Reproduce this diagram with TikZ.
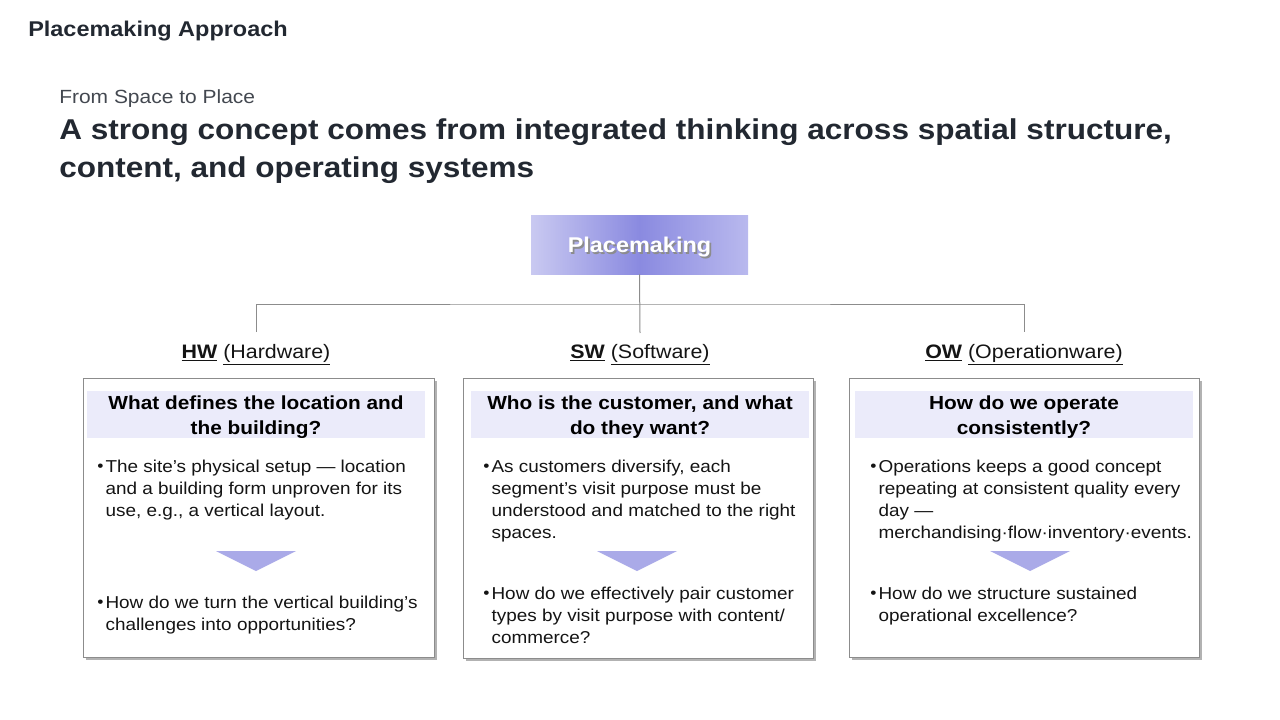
\documentclass[tikz,border=0pt]{standalone}
\usepackage{fontspec}
\setmainfont{Liberation Sans}[FakeStretch=1.1]
\usetikzlibrary{shadows}
\definecolor{ink}{HTML}{222831}
\definecolor{body}{HTML}{141414}
\definecolor{bandc}{HTML}{EBEBFA}
\definecolor{tric}{HTML}{AAAAE8}
\definecolor{linec}{HTML}{8C8C8C}
\definecolor{pmL}{HTML}{C9C9F1}
\definecolor{pmM}{HTML}{8A8AE0}
\definecolor{pmR}{HTML}{B9B9EE}
\tikzset{
  conn/.style={draw=linec, line width=0.75pt},
  card/.style={draw=linec, line width=0.75pt, fill=white, inner sep=0pt,
    drop shadow={shadow xshift=2pt, shadow yshift=-2pt, fill=black, opacity=0.3}},
  band/.style={fill=bandc, inner sep=0pt, minimum width=253.5pt, minimum height=35.25pt,
    align=center, text=black, font=\fontsize{14.2}{18.75}\selectfont\bfseries},
  bandtxt/.style={inner sep=0pt, align=center, text=black, font=\fontsize{14.2}{18.75}\selectfont\bfseries},
  tri/.style={fill=tric, draw=none},
  blt/.style={anchor=base west, inner sep=0pt, text=body, font=\fontsize{12.9}{16.5}\selectfont},
  lbl/.style={anchor=base, inner sep=0pt, text=body, font=\fontsize{14.6}{18}\selectfont},
}
\newcommand{\bl}[1]{\begin{tabular}[t]{@{}l@{\hspace{1.6pt}}l@{}}\raisebox{0.3pt}{\fontsize{12}{12}\selectfont•}&#1\end{tabular}}
\begin{document}
\begin{tikzpicture}[x=0.75pt,y=-0.75pt]
\useasboundingbox (0,0) rectangle (1280,720);
% titles
\node[anchor=base west, inner sep=0pt, text=ink, font=\fontsize{16}{19}\selectfont\bfseries] (title) at (28,37) {Placemaking Approach};
\node[anchor=base west, inner sep=0pt, text=ink!85, font=\fontsize{14.3}{17}\selectfont] (sub) at (59,104) {From Space to Place};
\node[anchor=base west, inner sep=0pt, text=ink, align=left, font=\fontsize{21.5}{28.5}\selectfont\bfseries] (head) at (59,178) {A strong concept comes from integrated thinking across spatial structure,\\content, and operating systems};
% top node
\node[minimum width=162.75pt, minimum height=43.5pt, inner sep=0pt, left color=pmL, right color=pmR, middle color=pmM] (pm) at (639.5,245) {};
\node[inner sep=0pt, text=white, font=\fontsize{16}{19}\selectfont\bfseries] (pmt) at (639.5,248) {\makebox[0pt][l]{\raisebox{-1.3pt}{\hspace{1.3pt}\textcolor{black!45}{Placemaking}}}Placemaking};
% connectors
\coordinate (hwTop) at (256,332);
\coordinate (swTop) at (640,333);
\coordinate (owTop) at (1024,332);
\coordinate (jn) at (640,304);
\draw[conn] (pm.south) -- (swTop);
\draw[conn] (hwTop) |- (jn) -| (owTop);
% labels
\node[lbl] (lhw) at (256,358) {\underline{\textbf{HW}} \underline{(Hardware)}};
\node[lbl] (lsw) at (640,358) {\underline{\textbf{SW}} \underline{(Software)}};
\node[lbl] (low) at (1024,358) {\underline{\textbf{OW}} \underline{(Operationware)}};
% cards
\node[card, minimum width=263.25pt, minimum height=209.25pt] (chw) at (258.5,517.5) {};
\node[card, minimum width=262.5pt, minimum height=210pt] (csw) at (638,518) {};
\node[card, minimum width=262.5pt, minimum height=209.25pt] (cow) at (1024,517.5) {};
% bands
\node[band] (bhw) at (256,414.5) {};
\node[band] (bsw) at (640,414.5) {};
\node[band] (bow) at (1024,414.5) {};
\node[bandtxt] (bhwt) at (256,417.5) {What defines the location and\\the building?};
\node[bandtxt] (bswt) at (640,417.5) {Who is the customer, and what\\do they want?};
\node[bandtxt] (bowt) at (1024,417.5) {How do we operate\\consistently?};
% first bullets
\node[blt] (t1hw) at (97,472) {\bl{The site’s physical setup — location\\& and a building form unproven for its\\& use, e.g., a vertical layout.}};
\node[blt] (t1sw) at (483,472) {\bl{As customers diversify, each\\& segment’s visit purpose must be\\& understood and matched to the right\\& spaces.}};
\node[blt] (t1ow) at (870,472) {\bl{Operations keeps a good concept\\& repeating at consistent quality every\\& day —\\& merchandising·flow·inventory·events.}};
% triangles
\fill[tri] (216,551) -- (296,551) -- (256,571) -- cycle;
\fill[tri] (597,551) -- (677,551) -- (637,571) -- cycle;
\fill[tri] (990,551) -- (1070,551) -- (1030,571) -- cycle;
% second bullets
\node[blt] (t2hw) at (97,608) {\bl{How do we turn the vertical building’s\\& challenges into opportunities?}};
\node[blt] (t2sw) at (483,599) {\bl{How do we effectively pair customer\\& types by visit purpose with content/\\& commerce?}};
\node[blt] (t2ow) at (870,599) {\bl{How do we structure sustained\\& operational excellence?}};
\end{tikzpicture}
\end{document}
